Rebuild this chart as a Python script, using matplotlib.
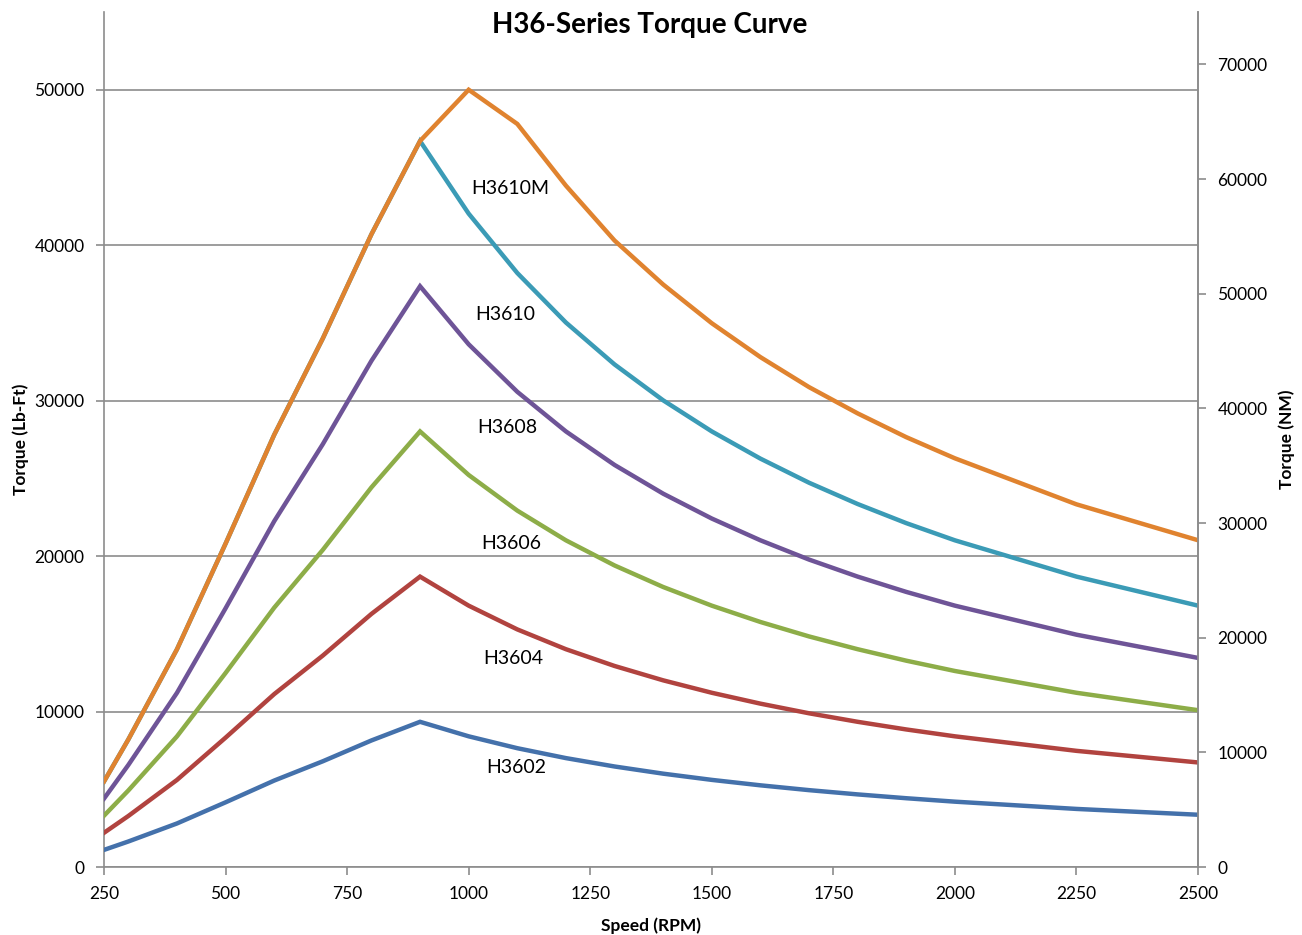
import matplotlib
matplotlib.use("Agg")
import matplotlib.pyplot as plt

plt.rcParams['font.family'] = ['Lato', 'DejaVu Sans']

# speed points (RPM)
speed = [250, 300, 400, 500, 600, 700, 800, 900, 1000, 1100, 1200, 1300, 1400,
         1500, 1600, 1700, 1800, 1900, 2000, 2250, 2500]

# torque in Lb-Ft
h3602 = [1100, 1640, 2800, 4160, 5560, 6800, 8140, 9340, 8406, 7642, 7005, 6466,
         6004, 5604, 5254, 4944, 4670, 4424, 4203, 3736, 3362]
h3604 = [2200, 3280, 5600, 8320, 11120, 13600, 16280, 18680, 16812, 15284, 14010,
         12932, 12008, 11208, 10508, 9888, 9340, 8848, 8406, 7472, 6725]
h3606 = [3300, 4920, 8400, 12480, 16680, 20400, 24420, 28020, 25218, 22926, 21015,
         19398, 18012, 16812, 15762, 14832, 14010, 13272, 12609, 11208, 10087]
h3608 = [4400, 6560, 11200, 16640, 22240, 27200, 32560, 37360, 33624, 30568, 28020,
         25864, 24016, 22416, 21016, 19776, 18680, 17696, 16812, 14944, 13450]
h3610 = [5500, 8200, 14000, 20800, 27800, 34000, 40700, 46700, 42030, 38210, 35025,
         32330, 30020, 28020, 26270, 24720, 23350, 22120, 21015, 18680, 16812]
h3610m = [5500, 8200, 14000, 20800, 27800, 34000, 40700, 46700, 50000, 47800, 43830,
          40300, 37470, 34980, 32800, 30870, 29180, 27650, 26290, 23330, 21020]

series = [
    ("H3602", h3602, "#4471AB", 1037, 6400),
    ("H3604", h3604, "#B1433F", 1030, 13400),
    ("H3606", h3606, "#8DAD48", 1026, 20800),
    ("H3608", h3608, "#6E5497", 1018, 28250),
    ("H3610", h3610, "#3B9BB6", 1014, 35550),
    ("H3610M", h3610m, "#E0832F", 1005, 43650),
]

LBFT_TO_NM = 1.3558
grid_col = "#8c8c8c"

fig = plt.figure(figsize=(13.02, 9.35), dpi=100)
ax = fig.add_axes([104/1302, 68/935, 1094/1302, 855/935])

for name, vals, col, lx, ly in series:
    ax.plot(speed, vals, color=col, lw=3.2, solid_joinstyle='miter', zorder=3)
    ax.text(lx, ly, name, fontsize=14, va='center', ha='left', color='black')

ax.set_xlim(250, 2500)
ax.set_ylim(0, 55000)
ax.set_xticks(range(250, 2501, 250))
ax.set_yticks(range(0, 50001, 10000))
ax.yaxis.grid(True, color=grid_col, lw=1.2)
ax.set_axisbelow(True)

ax.spines['top'].set_visible(False)
for s in ['left', 'bottom', 'right']:
    ax.spines[s].set_color(grid_col)
    ax.spines[s].set_linewidth(1.2)
ax.tick_params(axis='both', colors=grid_col, labelcolor='black', labelsize=12.5,
               length=6, width=1.2, direction='out')
ax.tick_params(axis='x', pad=8)
ax.tick_params(axis='y', pad=8)

ax2 = ax.twinx()
ax2.set_ylim(0, 55000 * LBFT_TO_NM)
ax2.set_yticks(range(0, 70001, 10000))
for s in ['top', 'left', 'bottom']:
    ax2.spines[s].set_visible(False)
ax2.spines['right'].set_color(grid_col)
ax2.spines['right'].set_linewidth(1.2)
ax2.tick_params(axis='y', colors=grid_col, labelcolor='black', labelsize=12.5,
                length=6, width=1.2, direction='out', pad=8)

ax.set_xlabel("Speed (RPM)", fontsize=12.5, fontweight='bold', labelpad=11)
ax.set_ylabel("Torque (Lb-Ft)", fontsize=12.5, fontweight='bold', labelpad=4)
ax2.set_ylabel("Torque (NM)", fontsize=12.5, fontweight='bold', labelpad=8)

fig.text(650/1302, 1 - 25/935, "H36-Series Torque Curve", fontsize=20,
         fontweight='bold', ha='center', va='center')

fig.savefig("out.png", dpi=100)
